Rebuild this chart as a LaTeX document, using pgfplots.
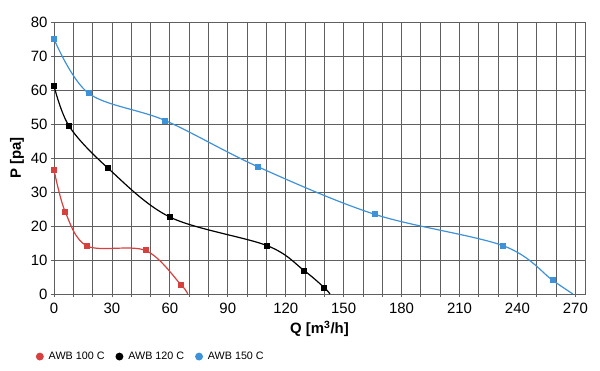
\documentclass[border=0pt]{standalone}
\usepackage{fontspec}
\setmainfont{Liberation Sans}
\usepackage{pgfplots}
\pgfplotsset{compat=1.18}
\definecolor{cred}{RGB}{214,64,62}
\definecolor{cblue}{RGB}{62,146,216}
\definecolor{cgrid}{RGB}{95,95,95}
\begin{document}
\begin{tikzpicture}[x=1bp,y=1bp]
\useasboundingbox (0,0) rectangle (600,370);
\begin{axis}[
  at={(54bp,76bp)}, anchor=south west, scale only axis,
  width=531bp, height=272bp,
  xmin=0, xmax=275, ymin=0, ymax=80,
  xtick={0,30,...,270}, ytick={0,10,...,80}, minor xtick={0,10,...,270},
  grid=both,
  major grid style={cgrid, line width=0.8bp},
  minor grid style={cgrid, line width=0.8bp},
  axis line style={cgrid, line width=1bp},
  tick pos=left, tick align=outside,
  major tick length=3bp, minor tick length=3bp,
  tick style={cgrid, line width=0.8bp},
  ticklabel style={font=\fontsize{15}{16}\selectfont},
  xticklabel style={yshift=-3bp},
  /pgf/number format/assume math mode=true,
  xlabel={Q [m\textsuperscript{3}/h]}, ylabel={P [pa]},
  label style={font=\fontsize{15}{16}\selectfont\bfseries},
  xlabel style={yshift=0bp},
  legend style={at={(-0.04,-0.23)}, anchor=west, draw=none, fill=none,
    legend columns=3, font=\fontsize{10.8}{12}\selectfont,
    /tikz/every odd column/.append style={column sep=3bp},
    /tikz/every even column/.append style={column sep=9bp}},
  legend image code/.code={\fill (2bp,0bp) circle (3.3bp);},
  every axis plot/.append style={line width=1.2bp, mark size=2.4bp, smooth, tension=0.55}
]
\addplot[cred, mark=square*, mark indices={1,2,3,4,5}] coordinates {
  (0,36.5) (5.8,24.2) (17.2,14.1) (47.4,12.8) (65.8,2.7) (69.2,0)
};
\addlegendentry{AWB 100 C}
\addplot[black, mark=square*, mark indices={1,2,3,4,5,6,7}] coordinates {
  (0,61.2) (7.9,49.3) (27.8,37.1) (60.1,22.6) (110.5,14.2) (129.5,6.9) (140,1.85) (142.9,0)
};
\addlegendentry{AWB 120 C}
\addplot[cblue, mark=square*, mark indices={1,2,3,4,5,6,7}] coordinates {
  (0,75.0) (18.0,59.0) (57.7,51.0) (105.7,37.4) (166.3,23.4) (232.6,14.2) (258.3,4.0) (268.7,0)
};
\addlegendentry{AWB 150 C}
\end{axis}
\end{tikzpicture}
\end{document}
